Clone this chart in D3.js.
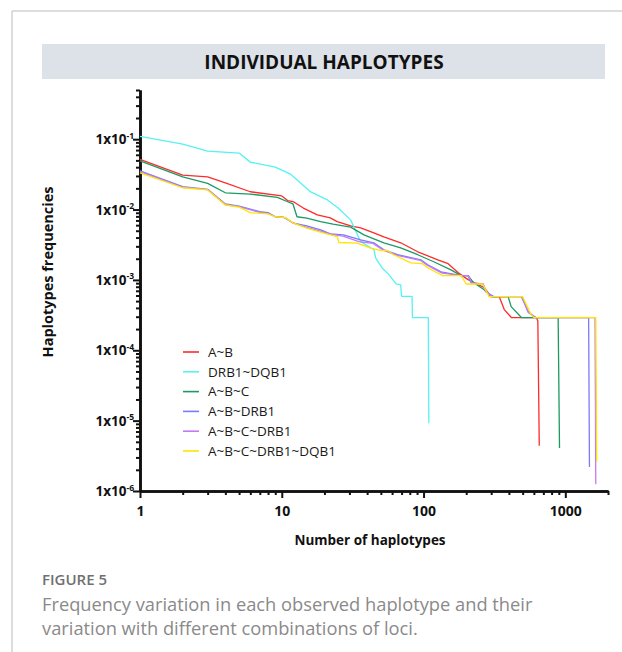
<!DOCTYPE html>
<html>
<head>
<meta charset="utf-8">
<script src="https://cdn.jsdelivr.net/npm/d3@7"></script>
<style>
  body { margin: 0; background: #fff; }
  svg text { font-family: "Open Sans", "Noto Sans", sans-serif; }
</style>
</head>
<body>
<svg id="chart" width="622" height="652"></svg>
<script>
// series names, in drawing order
var seriesNames = ['A~B', 'DRB1~DQB1', 'A~B~C', 'A~B~DRB1', 'A~B~C~DRB1', 'A~B~C~DRB1~DQB1'];
var seriesColors = ['#ff2a2a', '#55f2f2', '#1b9a64', '#7a7aff', '#c47af2', '#ffe500'];

// [rank, frequency]
var abPoints = [[1,0.0516],[2,0.0309],[3,0.0292],[4,0.0240],[6,0.0179],[10,0.0156],[11,0.0134],[12,0.0130],
  [14.2,0.0105],[17.8,0.0084],[22,0.0076],[24.6,0.00674],[30.6,0.00586],[36,0.0055],[44.6,0.00467],
  [52.5,0.00409],[69,0.00337],[91,0.00251],[126,0.00193],[149,0.0017],[175,0.00127],[206,0.00101],
  [267,0.00078],[300,0.000578],[342,0.000578],[371,0.000379],[416,0.000292],[625,0.000292],[640,0.00026],[655,4.4e-6]];

var drbDqbPoints = [[1,0.110],[2,0.085],[3,0.0676],[5,0.0634],[6,0.0472],[9,0.040],[11.5,0.0319],[16,0.0178],
  [21,0.0137],[25,0.0105],[30.6,0.00713],[36,0.0035],[44.7,0.00268],[46,0.00204],[51,0.00148],[57,0.00119],
  [64,0.00088],[69,0.00085],[70,0.000585],[83,0.000585],[83.5,0.000292],[108,0.000292],[109,9.2e-6]];

var abcPoints = [[1,0.0493],[2,0.0292],[3,0.0236],[4,0.0173],[6,0.0166],[9.3,0.0149],[11,0.0129],[12,0.012],
  [12.8,0.0079],[15,0.00754],[18.8,0.00675],[23,0.0062],[30.6,0.00562],[38,0.00437],[44.6,0.00384],
  [52.5,0.00337],[69,0.00286],[91,0.00228],[118,0.00181],[156,0.00139],[184,0.00115],[206,0.00115],
  [226,0.00091],[268,0.000726],[300,0.000578],[395,0.000578],[415,0.000417],[490,0.000292],[890,0.000292],[910,4.1e-6]];

var abDrbPoints = [[1,0.0356],[2,0.0211],[3,0.0194],[4,0.012],[5,0.0112],[7,0.00933],[8,0.00903],[9,0.0079],
  [10.3,0.00778],[12.1,0.0064],[15,0.00586],[18.8,0.00514],[22,0.00451],[27.2,0.00436],[36,0.00371],
  [44.6,0.00337],[52.5,0.00268],[65.6,0.00228],[95.7,0.00193],[107,0.00164],[133,0.0013],[184,0.00115],
  [206,0.00115],[216,0.00091],[262,0.00088],[275,0.00068],[313,0.000578],[490,0.000578],[552,0.000343],
  [620,0.000292],[1460,0.000292],[1480,2.2e-6]];

var abcDrbPoints = [[1,0.0345],[2,0.0207],[3,0.0192],[4,0.0118],[5,0.0110],[7,0.0091],[8,0.0088],[9,0.0079],
  [10.5,0.0077],[12.1,0.0064],[15,0.0056],[19,0.0049],[23,0.0044],[27,0.0042],[35,0.0035],[44,0.0033],
  [52,0.00265],[64,0.00225],[95,0.0019],[106,0.00162],[135,0.00125],[190,0.00115],[208,0.00115],
  [218,0.00091],[262,0.00088],[278,0.00068],[305,0.000578],[495,0.000578],[545,0.00035],[615,0.000292],
  [1620,0.000292],[1640,1.25e-6]];

var abcDrbDqbPoints = [[1,0.0333],[2,0.0204],[3,0.019],[4,0.0116],[5,0.0108],[6,0.00903],[8,0.00867],[9,0.0079],
  [10.6,0.00767],[12.1,0.0064],[15,0.00543],[19.8,0.00461],[24.6,0.00413],[25.3,0.0034],[34,0.00333],
  [42.4,0.00283],[49.9,0.00262],[55.5,0.00262],[61.6,0.00228],[81.5,0.00175],[98.4,0.0017],[107,0.00149],
  [136,0.00115],[184,0.00115],[200,0.000875],[261,0.000875],[290,0.000578],[500,0.000578],[574,0.000321],
  [600,0.000292],[1640,0.000292],[1665,2.6e-6]];

var seriesPoints = [abPoints, drbDqbPoints, abcPoints, abDrbPoints, abcDrbPoints, abcDrbDqbPoints];

var xTickValues = [1, 10, 100, 1000];
var yTickExponents = [-1, -2, -3, -4, -5, -6];

var titleText = 'INDIVIDUAL HAPLOTYPES';
var xTitle = 'Number of haplotypes';
var yTitle = 'Haplotypes frequencies';
var figureLabel = 'FIGURE 5';
var captionLines = ['Frequency variation in each observed haplotype and their',
                    'variation with different combinations of loci.'];

var svg = d3.select('#chart');

// page frame
svg.append('line').attr('x1', 12).attr('y1', 11).attr('x2', 622).attr('y2', 11)
   .attr('stroke', '#d2d2d2').attr('stroke-width', 1.5);
svg.append('line').attr('x1', 12).attr('y1', 11).attr('x2', 12).attr('y2', 652)
   .attr('stroke', '#d2d2d2').attr('stroke-width', 1.5);

// title band
svg.append('rect').attr('x', 42).attr('y', 44).attr('width', 563).attr('height', 35)
   .attr('fill', '#dde1e8');
svg.append('text').attr('x', 324).attr('y', 69).attr('text-anchor', 'middle')
   .attr('font-size', 19).attr('font-weight', 700).attr('fill', '#111')
   .text(titleText);

var x = d3.scaleLog().domain([1, 2000]).range([140, 608]),
    y = d3.scaleLog().domain([1e-6, 0.5]).range([491, 90]);

function minorTicks(lo, hi) {
  var out = [];
  for (var e = lo; e <= hi; e++) {
    for (var m = 2; m <= 9; m++) out.push(m * Math.pow(10, e));
  }
  return out;
}
var xMinor = minorTicks(0, 3).filter(function (v) { return v <= 2000; }),
    yMinor = minorTicks(-6, -1).filter(function (v) { return v <= 0.5; });
var yMajor = yTickExponents.map(function (e) { return Math.pow(10, e); });

function styleAxis(g, width) {
  g.selectAll('path').attr('stroke', '#111').attr('stroke-width', width);
  g.selectAll('line').attr('stroke', '#111').attr('stroke-width', 2);
}

// y axis
var yMinorG = svg.append('g').attr('transform', 'translate(140,0)')
  .call(d3.axisLeft(y).tickValues(yMinor).tickSize(4).tickSizeOuter(0).tickFormat(''));
styleAxis(yMinorG, 2.6);
var yMajorG = svg.append('g').attr('transform', 'translate(140,0)')
  .call(d3.axisLeft(y).tickValues(yMajor).tickSize(7).tickSizeOuter(0).tickFormat(''));
styleAxis(yMajorG, 2.6);

var yLabels = svg.append('g').selectAll('text').data(yTickExponents).enter()
  .append('text')
  .attr('x', 134)
  .attr('y', function (e) { return y(Math.pow(10, e)) + 5; })
  .attr('text-anchor', 'end')
  .attr('font-size', 13.5).attr('font-weight', 700).attr('fill', '#111');
yLabels.append('tspan').text('1x10');
yLabels.append('tspan').attr('font-size', 8.5).attr('dy', -5.5)
  .text(function (e) { return String(e); });

// x axis
var xMinorG = svg.append('g').attr('transform', 'translate(0,491)')
  .call(d3.axisBottom(x).tickValues(xMinor).tickSize(4).tickSizeOuter(0).tickFormat(''));
styleAxis(xMinorG, 2.6);
var xMajorG = svg.append('g').attr('transform', 'translate(0,491)')
  .call(d3.axisBottom(x).tickValues(xTickValues).tickSize(7).tickSizeOuter(0)
    .tickFormat(d3.format('d')));
styleAxis(xMajorG, 2.6);
xMajorG.selectAll('text').attr('font-size', 14).attr('font-weight', 700)
  .attr('fill', '#111').attr('dy', '1.05em');

// axis titles
svg.append('text').attr('x', 370).attr('y', 545).attr('text-anchor', 'middle')
   .attr('font-size', 13.5).attr('font-weight', 700).attr('fill', '#111').text(xTitle);
svg.append('text').attr('transform', 'translate(53,272) rotate(-90)').attr('text-anchor', 'middle')
   .attr('font-size', 14.5).attr('font-weight', 700).attr('fill', '#111').text(yTitle);

// curves
var line = d3.line()
  .x(function (d) { return x(d[0]); })
  .y(function (d) { return y(d[1]); });

svg.append('g').selectAll('path').data(seriesPoints).enter()
  .append('path')
  .attr('d', line)
  .attr('fill', 'none')
  .attr('stroke', function (d, i) { return seriesColors[i]; })
  .attr('stroke-width', 1.3)
  .attr('stroke-linejoin', 'round');

// legend
var legend = svg.append('g').selectAll('g').data(seriesNames).enter()
  .append('g')
  .attr('transform', function (d, i) { return 'translate(183,' + (352 + i * 19.8) + ')'; });
legend.append('line').attr('x1', 0).attr('x2', 16).attr('y1', 0).attr('y2', 0)
  .attr('stroke', function (d, i) { return seriesColors[i]; }).attr('stroke-width', 1.6);
legend.append('text').attr('x', 25).attr('y', 4.8)
  .attr('font-size', 13.5).attr('fill', '#1a1a1a')
  .text(function (d) { return d; });

// caption
svg.append('text').attr('x', 42).attr('y', 585).attr('font-size', 15).attr('font-weight', 600)
   .attr('fill', '#707070').text(figureLabel);
svg.append('g').selectAll('text').data(captionLines).enter()
  .append('text')
  .attr('x', 42)
  .attr('y', function (d, i) { return 611 + i * 24; })
  .attr('font-size', 18.3).attr('fill', '#8a8a8a')
  .text(function (d) { return d; });
</script>
</body>
</html>
